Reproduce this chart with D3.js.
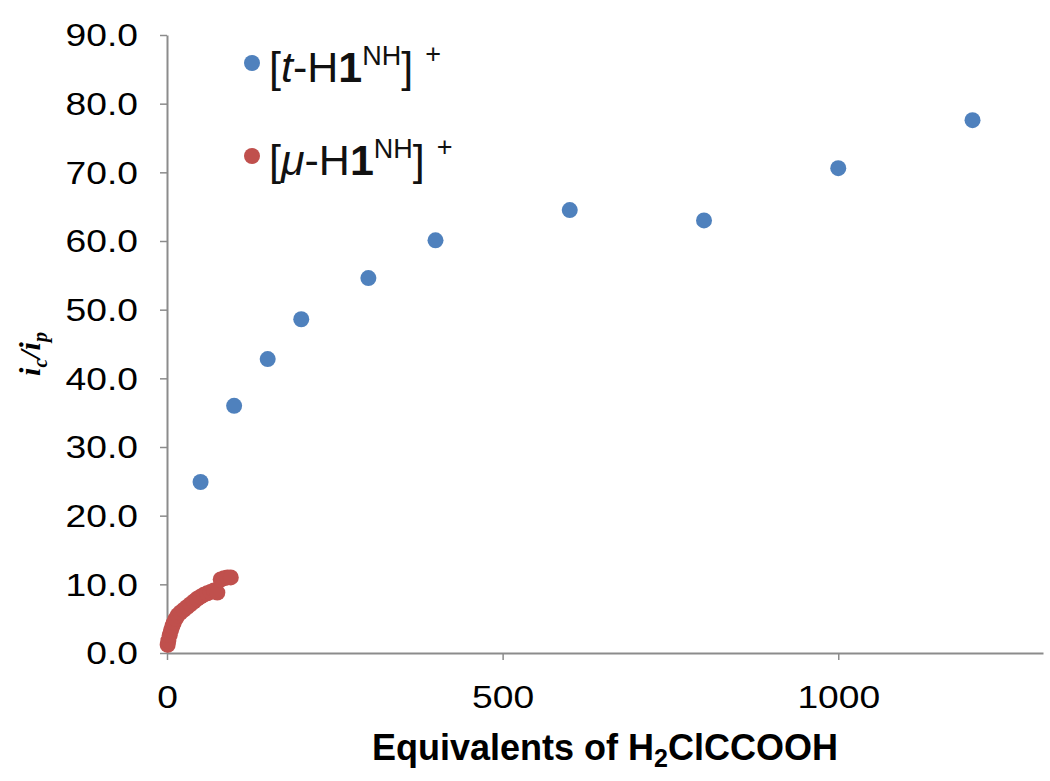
<!DOCTYPE html>
<html><head><meta charset="utf-8">
<script src="https://cdn.jsdelivr.net/npm/d3@7"></script>
<style>body{margin:0;background:#fff;} text{font-family:"Liberation Sans",Arial,sans-serif;}</style>
</head><body>
<svg id="c" width="1050" height="781"></svg>
<script>
const blueX = [50, 100, 150, 200, 300, 400, 600, 800, 1000, 1200];
const blueY = [24.9, 36.0, 42.8, 48.6, 54.6, 60.1, 64.5, 63.0, 70.6, 77.6];
const redX = [1, 2, 4, 6, 8, 10, 13, 16, 20, 25, 30, 35, 40, 45, 50, 55, 60, 65, 70, 75, 80, 85, 90, 95];
const redY = [1.2, 1.8, 2.6, 3.3, 3.9, 4.4, 5.0, 5.5, 5.9, 6.3, 6.7, 7.1, 7.5, 7.9, 8.2, 8.5, 8.7, 8.9, 9.1, 8.8, 10.7, 10.9, 11.0, 11.0];
const xTicks = [0, 500, 1000];
const yTicks = [0, 10, 20, 30, 40, 50, 60, 70, 80, 90];

const svg = d3.select("#c");
const L = 167, R = 1043, T = 35, B = 653;
const x = d3.scaleLinear().domain([0, 1305]).range([L, R]);
const y = d3.scaleLinear().domain([0, 90]).range([B, T]);
const axisCol = "#8c8c8c";

const gx = svg.append("g").attr("transform", `translate(0,${B})`)
  .call(d3.axisBottom(x).tickValues(xTicks).tickSize(7).tickSizeOuter(0).tickFormat(d3.format("d")));
const gy = svg.append("g").attr("transform", `translate(${L},0)`)
  .call(d3.axisLeft(y).tickValues(yTicks).tickSize(7).tickSizeOuter(0).tickFormat(d3.format(".1f")));
[gx, gy].forEach(g => {
  g.select(".domain").attr("stroke", axisCol).attr("stroke-width", 2);
  g.selectAll(".tick line").attr("stroke", axisCol).attr("stroke-width", 1.5);
  g.selectAll(".tick text").attr("fill", "#000").style("font-size", "31px").style("font-family", "Liberation Sans, Arial, sans-serif");
});
gy.selectAll(".tick text").attr("x", 0).attr("dy", "0.35em").attr("transform", "translate(-29,0) scale(1.2,1)");
gx.selectAll(".tick text").attr("y", 0).attr("dy", 0).attr("transform", "translate(0,55) scale(1.2,1)");

// red series
svg.append("g").selectAll("circle").data(redX.map((d, i) => [d, redY[i]])).join("circle")
  .attr("cx", d => x(d[0])).attr("cy", d => y(d[1])).attr("r", 8).attr("fill", "#C0504D");
// blue series
svg.append("g").selectAll("circle").data(blueX.map((d, i) => [d, blueY[i]])).join("circle")
  .attr("cx", d => x(d[0])).attr("cy", d => y(d[1])).attr("r", 8).attr("fill", "#4F81BD");

// axis titles
const xt = svg.append("text").attr("x", (L + R) / 2).attr("y", 760).attr("text-anchor", "middle")
  .style("font-size", "36px").style("font-weight", "bold");
xt.append("tspan").text("Equivalents of H");
xt.append("tspan").attr("dy", 7).style("font-size", "25px").text("2");
xt.append("tspan").attr("dy", -7).text("ClCCOOH");

const yt = svg.append("text").attr("transform", `translate(40,${(T + B) / 2 + 10}) rotate(-90)`).attr("text-anchor", "middle")
  .style("font-size", "30px").style("font-weight", "bold").style("font-style", "italic").style("font-family", "Liberation Serif, Times New Roman, serif");
yt.append("tspan").text("i");
yt.append("tspan").attr("dy", 7).style("font-size", "20px").text("c");
yt.append("tspan").attr("dy", -7).text("/i");
yt.append("tspan").attr("dy", 7).style("font-size", "20px").text("p");

// legend
function legendItem(cy, color, letter) {
  svg.append("circle").attr("cx", 252).attr("cy", cy).attr("r", 8).attr("fill", color);
  const t = svg.append("text").attr("x", 269).attr("y", cy + 19).style("font-size", "43px").attr("fill", "#111");
  t.append("tspan").text("[");
  t.append("tspan").style("font-style", "italic").text(letter);
  t.append("tspan").text("-H");
  t.append("tspan").style("font-weight", "bold").text("1");
  t.append("tspan").attr("dy", -17).style("font-size", "27px").text("NH");
  t.append("tspan").attr("dy", 17).text("]");
  t.append("tspan").attr("dy", -19).attr("dx", 12).style("font-size", "27px").text("+");
}
legendItem(63, "#4F81BD", "t");
legendItem(156, "#C0504D", "\u03bc");
</script>
</body></html>
